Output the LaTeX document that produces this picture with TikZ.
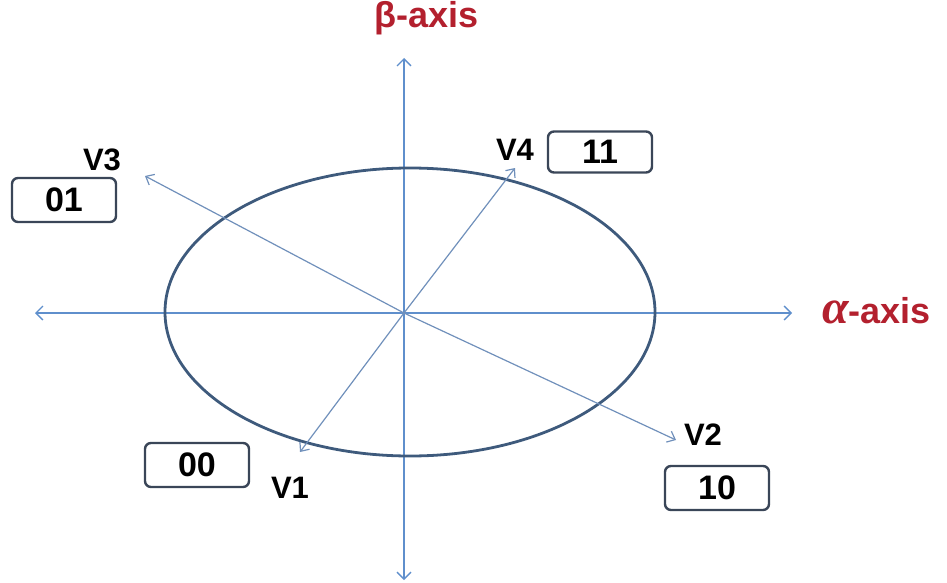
\documentclass[tikz,border=0pt]{standalone}
\usepackage{fontspec}
\setmainfont{Liberation Sans}
\newfontfamily\alphafont{Liberation Serif}
\usetikzlibrary{positioning, arrows.meta}
\definecolor{axisline}{HTML}{5f8fcc}
\definecolor{vecline}{HTML}{7090bb}
\definecolor{ringline}{HTML}{3e5a7c}
\definecolor{boxline}{HTML}{3a4658}
\definecolor{axislabel}{HTML}{b3202e}

\begin{document}
\begin{tikzpicture}[x=1pt,y=-1pt,font=\fontsize{31}{34}\selectfont\bfseries,
 ax/.style={axisline, line width=1.3pt, -{Straight Barb[length=7pt,width=14pt]}},
 vec/.style={vecline, line width=1.2pt, -{Straight Barb[length=7pt,width=12pt]}},
 bx/.style={draw=boxline, line width=2.4pt, rounded corners=6pt, minimum width=104pt, minimum height=41pt, inner sep=0pt, font=\fontsize{34}{36}\selectfont\bfseries},
 lbl/.style={text=axislabel, inner sep=0pt, font=\fontsize{36}{38}\selectfont\bfseries}]
\useasboundingbox (0,0) rectangle (947,583);

\coordinate (O) at (404,313);
\coordinate (top) at (404,58);
\coordinate (bottom) at (404,580);
\coordinate (left) at (35,313);
\coordinate (right) at (792,313);

% axes
\draw[ax] (O) -- (top);
\draw[ax] (O) -- (bottom);
\draw[ax] (O) -- (left);
\draw[ax] (O) -- (right);

\draw[ringline, line width=2.8pt] (410,312) ellipse [x radius=245, y radius=144];

\coordinate (t4) at (515,168);
\coordinate (t3) at (145,176);
\coordinate (t1) at (300,452);
\coordinate (t2) at (676,440);
\draw[vec] (O) -- (t4);
\draw[vec] (O) -- (t3);
\draw[vec] (O) -- (t1);
\draw[vec] (O) -- (t2);

\node[lbl] (beta) at (427,18) {β-axis};
\node[lbl, anchor=west] (alpha) at (822,311) {{\alphafont\itshape\fontsize{48}{50}\selectfont α}-axis};

\node (v4) at (515,150) {V4};
\node[bx] (b11) at (600,152) {11};
\node (v3) at (102,160) {V3};
\node[bx, minimum height=44pt] (b01) at (64,200) {01};
\node[bx, minimum height=44pt] (b00) at (197,465) {00};
\node (v1) at (290,488) {V1};
\node (v2) at (703,435) {V2};
\node[bx, minimum height=44pt] (b10) at (717,488) {10};
\end{tikzpicture}
\end{document}
